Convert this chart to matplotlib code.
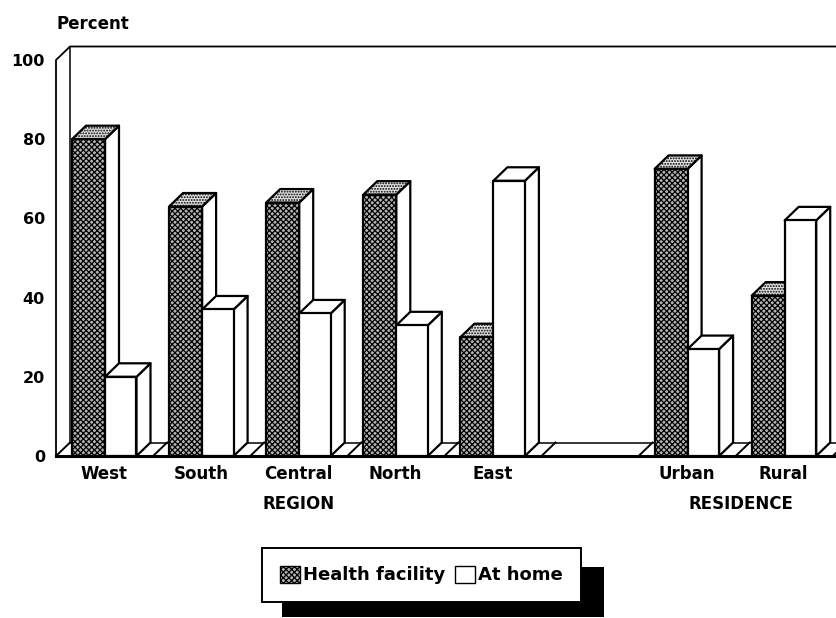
import matplotlib
matplotlib.use("Agg")
import matplotlib.pyplot as plt
from matplotlib.patches import Polygon, Patch, Rectangle

plt.rcParams['font.family'] = 'DejaVu Sans'
plt.rcParams['font.weight'] = 'bold'
plt.rcParams['hatch.linewidth'] = 0.9

# data
categories = ['West', 'South', 'Central', 'North', 'East', '', 'Urban', 'Rural']
facility = [80, 63, 64, 66, 30, None, 72.5, 40.5]
home = [20, 37, 36, 33, 69.5, None, 27, 59.5]
yticks = [0, 20, 40, 60, 80, 100]

W, H = 837, 618
SLOT = 97.1      # px per category slot
YPX = 3.96       # px per percent
X0, Y0 = 72, 456 # px of slot 0 / value 0

BAR_D = 33 / SLOT
BAR_H = 31.5 / SLOT
DX = 14 / SLOT
DY = 13.5 / YPX
TICK = 16 / SLOT

fig = plt.figure(figsize=(W / 100, H / 100), dpi=100)
left, right = 56, W
top = Y0 - 103.4 * YPX
ax = fig.add_axes([left / W, 1 - Y0 / H, (right - left) / W, (Y0 - top) / H])
ax.set_xlim((left - X0) / SLOT, (right - X0) / SLOT)
ax.set_ylim(0, 103.4)
for s in ax.spines.values():
    s.set_visible(False)


def poly(pts, face='white', hatch=None, z=3, lw=1.6):
    ax.add_patch(Polygon(pts, closed=True, facecolor=face, edgecolor='black',
                         hatch=hatch, linewidth=lw, zorder=z, clip_on=False,
                         joinstyle='round'))


def bar3d(x, w, h, face='white', hatch=None, top_face='white', top_hatch=None, z=3):
    poly([(x + w, 0), (x + w + DX, DY), (x + w + DX, h + DY), (x + w, h)], z=z)
    poly([(x, h), (x + DX, h + DY), (x + w + DX, h + DY), (x + w, h)],
         face=top_face, hatch=top_hatch, z=z)
    poly([(x, 0), (x + w, 0), (x + w, h), (x, h)], face=face, hatch=hatch, z=z)


# walls and floor
x_left = (left - X0) / SLOT
x_back = x_left + DX
x_end = (right - X0) / SLOT
ax.plot([x_left, x_left, x_back, x_end], [0, 100, 100 + DY, 100 + DY], color='black', lw=1.3, clip_on=False)
ax.plot([x_back, x_back, x_end], [100 + DY, DY, DY], color='black', lw=1.1, clip_on=False)
ax.plot([x_left, x_end], [0, 0], color='black', lw=2.2, clip_on=False, zorder=5)
for i in range(len(categories) + 1):
    ax.plot([i - TICK, i - TICK + DX], [0, DY], color='black', lw=1.4, clip_on=False)

for i in range(len(categories)):
    if facility[i] is None:
        continue
    bar3d(i, BAR_D, facility[i], face='#b4b4b4', hatch='xxxxxx',
          top_face='#e0e0e0', top_hatch='......', z=3 + i)
    bar3d(i + BAR_D, BAR_H, home[i], z=3.5 + i)

# axes text
ax.set_yticks(yticks)
ax.set_yticklabels([str(v) for v in yticks], fontsize=11.5)
ax.tick_params(axis='y', length=0, pad=8)
tick_idx = [i for i, c in enumerate(categories) if c]
ax.set_xticks([i + 0.33 for i in tick_idx])
ax.set_xticklabels([categories[i] for i in tick_idx], fontsize=12)
ax.tick_params(axis='x', length=0, pad=6.5)

ax.text((57 - X0) / SLOT, (Y0 - 24) / YPX, 'Percent', fontsize=12, ha='left', va='center')
ax.text(2.33, -12, 'REGION', fontsize=12, ha='center', va='center')
ax.text(6.89, -12, 'RESIDENCE', fontsize=12, ha='center', va='center')

# legend with its drop shadow
fig.add_artist(Rectangle((282 / W, 1 - 617 / H), 322 / W, 50 / H, facecolor='black', edgecolor='none', zorder=1))
handles = [Patch(facecolor='#b4b4b4', edgecolor='black', hatch='xxxxxx', label='Health facility'),
           Patch(facecolor='white', edgecolor='black', label='At home')]
leg = fig.legend(handles=handles, ncol=2, loc='center', bbox_to_anchor=(421.5 / W, 1 - 575 / H),
                 fancybox=False, framealpha=1, edgecolor='black', fontsize=13,
                 handlelength=1.1, handleheight=1.1, handletextpad=0.2, columnspacing=0.5,
                 borderpad=1.0, borderaxespad=0)
leg.set_zorder(2)
leg.get_frame().set_linewidth(1.4)

fig.savefig('out.png', dpi=100)
